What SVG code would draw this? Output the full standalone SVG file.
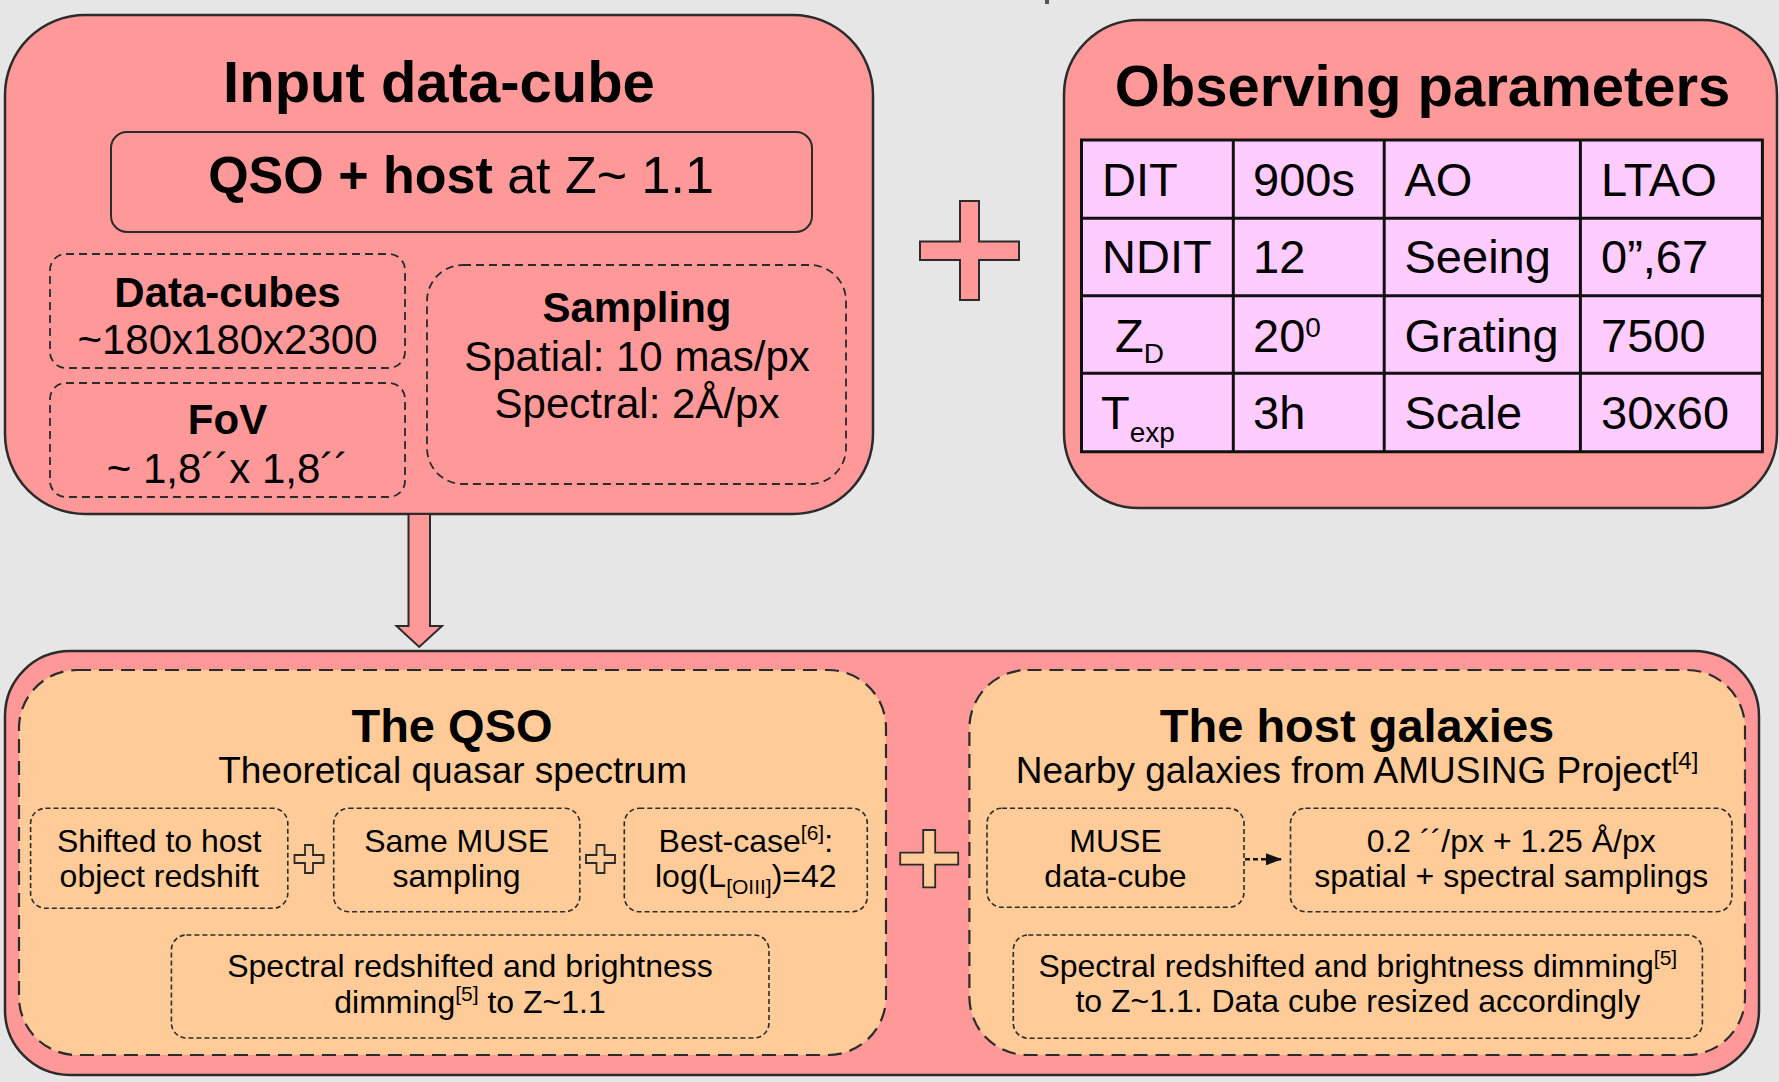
<svg xmlns="http://www.w3.org/2000/svg" width="1779" height="1082" viewBox="0 0 1779 1082">
  <style>
    text { font-family: "Liberation Sans", Arial, sans-serif; fill: #000; }
    .b { font-weight: bold; }
    .mid { text-anchor: middle; }
    .panel { fill: #FF9999; stroke: #2b2b2b; stroke-width: 2.5; }
    .solid { fill: #FF9999; stroke: #2b2b2b; stroke-width: 2; }
    .dashA { fill: none; stroke: #2b2b2b; stroke-width: 1.8; stroke-dasharray: 8 5; }
    .dashBig { fill: #FFCC99; stroke: #2b2b2b; stroke-width: 2.2; stroke-dasharray: 14 8; }
    .dashSm { fill: none; stroke: #2b2b2b; stroke-width: 1.6; stroke-dasharray: 5 3; }
    .grid { stroke: #111; stroke-width: 3; fill: none; }
    .plusR { fill: #FF9999; stroke: #2b2b2b; stroke-width: 2; }
    .plusP { fill: #FFCC99; stroke: #2b2b2b; stroke-width: 1.8; }
    .t58 { font-size: 58px; }
    .t52 { font-size: 52px; }
    .t47 { font-size: 47px; }
    .t42 { font-size: 42px; }
    .t37 { font-size: 37px; }
    .t32 { font-size: 32px; }
  </style>
  <defs>
    <marker id="tri" viewBox="0 0 16 12" refX="15" refY="6" markerWidth="16" markerHeight="12" orient="auto" markerUnits="userSpaceOnUse">
      <path d="M0,0 L16,6 L0,12 Z" fill="#111"/>
    </marker>
  </defs>

  <rect x="0" y="0" width="1779" height="1082" fill="#E6E6E6"/>
  <rect x="1045" y="0" width="4" height="4" fill="#555"/>

  <!-- Input data-cube panel -->
  <g id="input-cube">
    <rect class="panel" x="5" y="15" width="868" height="499" rx="80" ry="80"/>
    <text class="b t58 mid" x="439" y="102">Input data-cube</text>
    <g id="qso-host">
      <rect class="solid" x="111" y="132" width="701" height="100" rx="16" ry="16"/>
      <text class="t52 mid" x="461" y="193"><tspan class="b">QSO + host</tspan> at Z~ 1.1</text>
    </g>
    <g id="data-cubes">
      <rect class="dashA" x="50" y="254" width="355" height="114" rx="16" ry="16"/>
      <text class="b t42 mid" x="227.5" y="307">Data-cubes</text>
      <text class="t42 mid" x="227.5" y="354">~180x180x2300</text>
    </g>
    <g id="fov">
      <rect class="dashA" x="50" y="383" width="355" height="114" rx="16" ry="16"/>
      <text class="b t42 mid" x="227.5" y="434">FoV</text>
      <text class="t42 mid" x="227.5" y="483">~ 1,8´´x 1,8´´</text>
    </g>
    <g id="sampling">
      <rect class="dashA" x="427" y="265" width="419" height="219" rx="36" ry="36"/>
      <text class="b t42 mid" x="637" y="322">Sampling</text>
      <text class="t42 mid" x="637" y="371">Spatial: 10 mas/px</text>
      <text class="t42 mid" x="637" y="418">Spectral: 2Å/px</text>
    </g>
  </g>

  <!-- Observing parameters panel -->
  <g id="observing">
    <rect class="panel" x="1064" y="20" width="713" height="488" rx="75" ry="75"/>
    <text class="b t58 mid" x="1422.5" y="106">Observing parameters</text>
    <rect x="1081.5" y="140" width="681" height="311.7" fill="#FFCCFF"/>
    <path class="grid" d="M1081.5,140 H1762.4 V451.7 H1081.5 Z M1081.5,218.3 H1762.4 M1081.5,295.7 H1762.4 M1081.5,373.3 H1762.4 M1233.3,140 V451.7 M1384.2,140 V451.7 M1580.4,140 V451.7"/>
    <g class="t47">
      <text x="1102" y="195.7">DIT</text>
      <text x="1253" y="195.7">900s</text>
      <text x="1404.5" y="195.7">AO</text>
      <text x="1601" y="195.7">LTAO</text>
      <text x="1102" y="273.3">NDIT</text>
      <text x="1253" y="273.3">12</text>
      <text x="1404.5" y="273.3">Seeing</text>
      <text x="1601" y="273.3">0”,67</text>
      <text x="1115" y="351.7">Z<tspan font-size="28" dy="11">D</tspan></text>
      <text x="1253" y="351.7">20<tspan font-size="28" dy="-15">0</tspan></text>
      <text x="1404.5" y="351.7">Grating</text>
      <text x="1601" y="351.7">7500</text>
      <text x="1101" y="429.3">T<tspan font-size="28" dy="13">exp</tspan></text>
      <text x="1253" y="429.3">3h</text>
      <text x="1404.5" y="429.3">Scale</text>
      <text x="1601" y="429.3">30x60</text>
    </g>
  </g>

  <!-- Simulation panel -->
  <g id="simulation">
    <rect class="panel" x="5" y="651" width="1754" height="424" rx="65" ry="65"/>
  </g>

  <!-- QSO branch -->
  <g id="qso">
    <rect class="dashBig" x="19" y="670" width="867" height="385" rx="58" ry="58"/>
    <text class="b t47 mid" x="452" y="741.7">The QSO</text>
    <text class="t37 mid" x="452.6" y="783.3">Theoretical quasar spectrum</text>
    <g id="qso-shift">
      <rect class="dashSm" x="30.6" y="808.3" width="257.2" height="100" rx="15" ry="15"/>
      <text class="t32 mid" x="159.2" y="852.3">Shifted to host</text>
      <text class="t32 mid" x="159.2" y="886.7">object redshift</text>
    </g>
    <g id="qso-sampling">
      <rect class="dashSm" x="333.7" y="808.3" width="246.1" height="103.4" rx="15" ry="15"/>
      <text class="t32 mid" x="456.6" y="852.3">Same MUSE</text>
      <text class="t32 mid" x="456.6" y="886.7">sampling</text>
    </g>
    <g id="qso-bestcase">
      <rect class="dashSm" x="624.3" y="808.3" width="243" height="103.4" rx="15" ry="15"/>
      <text class="t32 mid" x="745.8" y="851.7">Best-case<tspan font-size="21" dy="-12">[6]</tspan><tspan dy="12">:</tspan></text>
      <text class="t32 mid" x="745.8" y="886.7">log(L<tspan font-size="21" dy="7">[OIII]</tspan><tspan dy="-7">)=42</tspan></text>
    </g>
    <g id="qso-dimming">
      <rect class="dashSm" x="171.4" y="935" width="597.6" height="103" rx="15" ry="15"/>
      <text class="t32 mid" x="470" y="977.3">Spectral redshifted and brightness</text>
      <text class="t32 mid" x="470" y="1013.3">dimming<tspan font-size="21" dy="-12">[5]</tspan><tspan dy="12"> to Z~1.1</tspan></text>
    </g>
  </g>

  <!-- Host galaxy branch -->
  <g id="host">
    <rect class="dashBig" x="969.4" y="670" width="775.6" height="385" rx="58" ry="58"/>
    <text class="b t47 mid" x="1357" y="741.7">The host galaxies</text>
    <text class="t37 mid" x="1357" y="783.3">Nearby galaxies from AMUSING Project<tspan font-size="24" dy="-14">[4]</tspan></text>
    <g id="host-muse">
      <rect class="dashSm" x="987" y="808.3" width="257" height="99" rx="15" ry="15"/>
      <text class="t32 mid" x="1115.5" y="851.7">MUSE</text>
      <text class="t32 mid" x="1115.5" y="886.7">data-cube</text>
    </g>
    <g id="host-sampling">
      <rect class="dashSm" x="1290.5" y="808.3" width="441.4" height="103.4" rx="15" ry="15"/>
      <text class="t32 mid" x="1511.2" y="851.7">0.2 ´´/px + 1.25 Å/px</text>
      <text class="t32 mid" x="1511.2" y="886.7">spatial + spectral samplings</text>
    </g>
    <g id="host-dimming">
      <rect class="dashSm" x="1013.3" y="935" width="689.1" height="103.3" rx="15" ry="15"/>
      <text class="t32 mid" x="1357.8" y="976.7">Spectral redshifted and brightness dimming<tspan font-size="21" dy="-12">[5]</tspan></text>
      <text class="t32 mid" x="1357.8" y="1011.7">to Z~1.1. Data cube resized accordingly</text>
    </g>
  </g>

  <!-- Combination signs -->
  <g id="operators">
    <polygon class="plusR" points="960,201 979,201 979,241.5 1019,241.5 1019,260 979,260 979,300 960,300 960,260 920,260 920,241.5 960,241.5"/>
    <polygon class="plusP" points="923.2,830 935.2,830 935.2,852.7 958.2,852.7 958.2,864.7 935.2,864.7 935.2,887.4 923.2,887.4 923.2,864.7 900.2,864.7 900.2,852.7 923.2,852.7"/>
    <polygon class="plusP" points="305,845 313,845 313,855 323.5,855 323.5,863 313,863 313,873 305,873 305,863 294.5,863 294.5,855 305,855"/>
    <polygon class="plusP" points="596.5,845 604.5,845 604.5,855 615,855 615,863 604.5,863 604.5,873 596.5,873 596.5,863 586,863 586,855 596.5,855"/>
  </g>

  <!-- Connectors -->
  <g id="connectors">
    <path d="M408.5,514 L430,514 L430,626 L442,626 L419.2,647 L396.5,626 L408.5,626 Z" fill="#FF9999" stroke="#2b2b2b" stroke-width="2" stroke-linejoin="miter"/>
    <line x1="1245" y1="859.3" x2="1281" y2="859.3" stroke="#111" stroke-width="2.5" stroke-dasharray="5 3" marker-end="url(#tri)"/>
  </g>
</svg>
